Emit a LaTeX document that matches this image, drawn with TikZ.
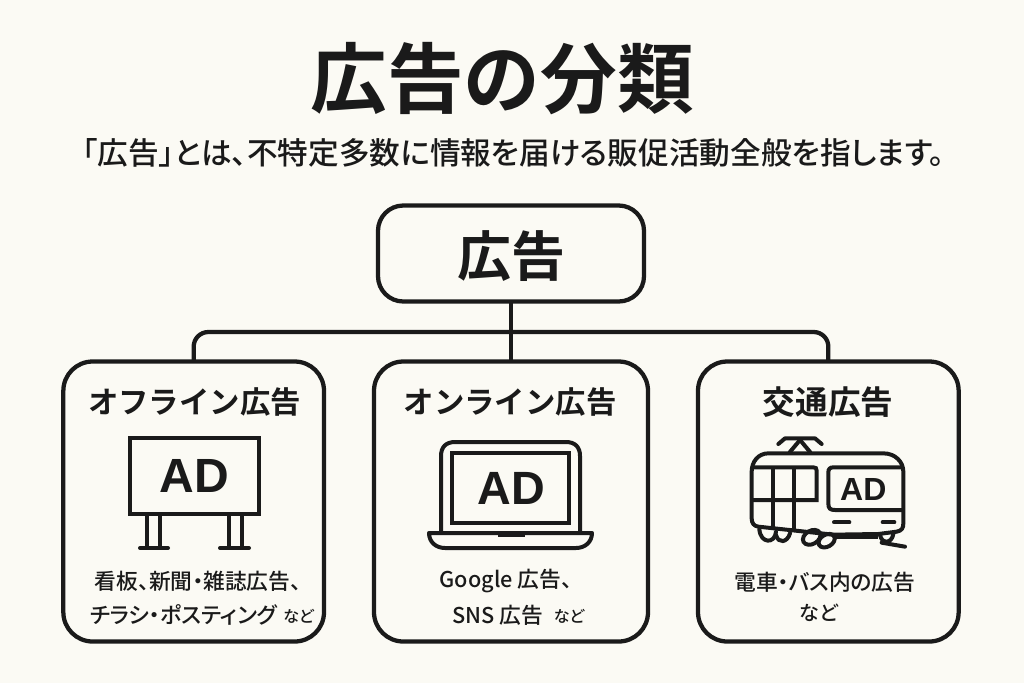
\documentclass[tikz,border=0pt]{standalone}
\usepackage{xcolor}
\usepackage{fontspec}
\setmainfont{Noto Sans CJK JP}[BoldFont={Noto Sans CJK JP Bold}]
\newfontfamily\medfont{Noto Sans CJK JP Medium}[RawFeature=+palt]
\newfontfamily\adfont{Liberation Sans}[BoldFont={Liberation Sans Bold}]
\usetikzlibrary{positioning}
\definecolor{paper}{HTML}{FBFAF4}
\definecolor{ink}{HTML}{1A1A1A}

\begin{document}
\begin{tikzpicture}[x=0.75pt,y=-0.75pt]
	\tikzset{catbox/.style={draw=ink,line width=3.2pt,rounded corners=22pt,outer sep=0pt,inner sep=0pt,minimum height=210pt},
		heading/.style={text=ink,inner sep=0pt,font=\fontsize{22.8}{26}\selectfont\bfseries},
		caption/.style={text=ink,inner sep=0pt,font=\medfont\fontsize{16.3}{18}\selectfont},
		adtext/.style={text=ink,inner sep=0pt,font=\adfont\bfseries},
		icon/.style={draw=ink,line width=3pt},
		small/.style={text=ink,inner sep=0pt,font=\medfont\fontsize{12}{14}\selectfont}}

\fill[paper] (0,0) rectangle (1024,683);
\useasboundingbox (0,0) rectangle (1024,683);

% headings
\node[text=ink,inner sep=0pt,font=\fontsize{57.5}{64}\selectfont\bfseries] (title) at (502,79) {広告の分類};
\node[text=ink,inner sep=0pt,font=\medfont\fontsize{23}{26}\selectfont] (lead) at (513.5,153) {「広告」とは、不特定多数に情報を届ける販促活動全般を指します。};

% tree
\node[catbox,rounded corners=19pt,minimum width=199.5pt,minimum height=72pt] (top) at (511,253.5) {};
\node[text=ink,inner sep=0pt,font=\fontsize{40.5}{44}\selectfont\bfseries] (toplabel) at (511.5,256) {広告};
\node[catbox,minimum width=205.5pt] (online) [below = 45pt of top] {};
\node[catbox,minimum width=195.5pt] (offline) [left = 37.5pt of online] {};
\node[catbox,minimum width=195.5pt] (traffic) [right = 37.5pt of online] {};

\coordinate (branch) at (511,332);
\draw[draw=ink,line width=3.2pt] (top) -- (online);
\draw[draw=ink,line width=3.2pt,rounded corners=11pt] (offline.north) |- (branch) -| (traffic.north);

\node[heading] (offhead) at (194.5,402) {オフライン広告};
\node[heading] (onhead) at (510,402) {オンライン広告};
\node[heading,font=\fontsize{24.5}{28}\selectfont\bfseries] (trhead) at (828,402) {交通広告};

% billboard
\node[icon,inner sep=0pt,outer sep=0pt,minimum width=96.5pt,minimum height=57pt,adtext,font=\adfont\bfseries\fontsize{36}{40}\selectfont] (board) at (194.5,475.5) {AD};
\foreach \x in {147,160,229,242}
	\draw[icon] (\x,514) -- (\x,548);
\draw[icon,line cap=round] (140,548) -- (168,548);
\draw[icon,line cap=round] (220,548) -- (249,548);

% laptop
\draw[icon] (441,532) -- (441,456) .. controls (441,447) and (446,442) .. (455,442) -- (566,442) .. controls (575,442) and (580,447) .. (580,456) -- (580,532);
\node[icon,inner sep=0pt,outer sep=0pt,minimum width=87.5pt,minimum height=52pt] (screen) at (510.5,488) {};
\node[adtext,font=\adfont\bfseries\fontsize{35}{40}\selectfont] (adon) at (511.5,488) {AD};
\draw[icon,line join=round] (429,533) -- (592,533) .. controls (592,542) and (585,548) .. (576,548) -- (445,548) .. controls (436,548) and (429,542) .. (429,533) -- cycle;
\fill[ink] (498,532) rectangle (525,537);

% train
\begin{scope}[shift={(700,420)},x=0.25pt,y=-0.25pt]
	\draw[icon,line cap=round,line join=round] (235,72) -- (255,55) -- (345,55) -- (365,72);
	\draw[icon,line join=round] (268,98) -- (300,60) -- (332,98);
	\draw[icon,line join=round] (155,155) .. controls (155,125) and (175,100) .. (205,100) -- (550,100) .. controls (585,100) and (610,125) .. (610,155) -- (610,310) .. controls (610,325) and (605,332) .. (590,335) -- (535,342) -- (400,344) -- (175,320) .. controls (162,318) and (155,310) .. (155,295) -- cycle;
	\draw[icon] (155,142) -- (340,142) .. controls (347,142) and (350,145) .. (350,152) -- (350,240) -- (155,240);
	\draw[icon] (218,142) -- (218,325);
	\draw[icon] (282,142) -- (282,330);
	\draw[icon] (610,142) -- (400,142) .. controls (390,142) and (385,147) .. (385,157) -- (385,250) .. controls (385,265) and (390,270) .. (405,270) -- (610,270);
	\node[adtext,font=\adfont\bfseries\fontsize{24}{28}\selectfont] (adtr) at (490,208) {AD};
	\draw[icon,line cap=round] (402,307) -- (448,307);
	\draw[icon,line cap=round] (548,307) -- (583,307);
	% wheels
	\draw[icon,line cap=round] (178,328) .. controls (182,372) and (225,372) .. (228,335);
	\draw[icon,line cap=round] (228,345) .. controls (235,372) and (262,368) .. (270,340);
	\draw[icon,rotate around={30:(335,352)}] (335,352) ellipse [x radius=28,y radius=20];
	\draw[icon,rotate around={30:(380,362)}] (380,362) ellipse [x radius=26,y radius=18];
	\draw[icon] (400,352) -- (535,352);
	\draw[icon,line cap=round] (540,345) .. controls (545,372) and (575,372) .. (580,342);
	\draw[icon,line cap=round] (545,368) -- (615,380);
\end{scope}

% captions
\node[caption] (off1) at (198,581) {看板、新聞・雑誌広告、};
\node[caption,font=\medfont\fontsize{16.6}{18}\selectfont] (off2) at (183.5,615) {チラシ・ポスティング};
\node[small] (off3) at (298.5,616) {など};
\node[caption] (on1) at (506,581) {Google 広告、};
\node[caption] (on2) at (497.5,615) {SNS 広告};
\node[small] (on3) at (569,616) {など};
\node[caption] (tr1) at (825,582) {電車・バス内の広告};
\node[caption,font=\medfont\fontsize{15}{18}\selectfont] (tr2) at (819,613) {など};
\end{tikzpicture}
\end{document}
